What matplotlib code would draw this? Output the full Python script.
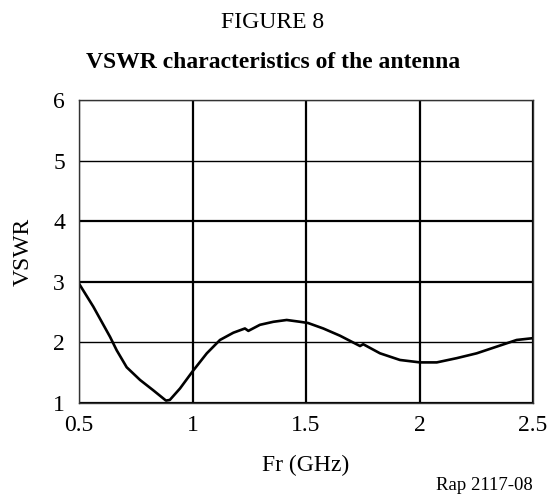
import matplotlib
matplotlib.use("Agg")
import matplotlib.pyplot as plt

freq_ghz = [0.50, 0.563, 0.637, 0.666, 0.71, 0.769, 0.827, 0.883, 0.90, 0.945, 1.0,
            1.063, 1.121, 1.18, 1.231, 1.246, 1.297, 1.356, 1.415, 1.474, 1.509,
            1.576, 1.65, 1.738, 1.752, 1.826, 1.914, 2.002, 2.076, 2.164, 2.252,
            2.34, 2.428, 2.50]
vswr = [2.97, 2.59, 2.09, 1.87, 1.59, 1.38, 1.21, 1.04, 1.05, 1.24, 1.52,
        1.82, 2.04, 2.16, 2.23, 2.19, 2.29, 2.34, 2.37, 2.34, 2.32,
        2.23, 2.11, 1.94, 1.97, 1.82, 1.71, 1.67, 1.67, 1.74, 1.82,
        1.93, 2.04, 2.07]

x_ticks = [0.5, 1, 1.5, 2, 2.5]
x_tick_labels = ["0.5", "1", "1.5", "2", "2.5"]
y_ticks = [1, 2, 3, 4, 5, 6]

plt.rcParams['font.family'] = ['Liberation Serif', 'DejaVu Serif']

fig = plt.figure(figsize=(5.47, 4.95), dpi=100)
W, H = 547, 495
ax = fig.add_axes([79 / W, 1 - 403 / H, (533 - 79) / W, (403 - 100) / H])

ax.plot(freq_ghz, vswr, color='black', lw=1.9, solid_joinstyle='round')
ax.set_xlim(0.5, 2.5)
ax.set_ylim(1, 6)
ax.set_xticks(x_ticks)
ax.set_xticklabels(x_tick_labels)
ax.set_yticks(y_ticks)
ax.tick_params(axis='x', length=0, labelsize=17, pad=8.5)
ax.tick_params(axis='y', length=0, labelsize=17, pad=10)
ax.grid(True, color='black', lw=1.6)
ygl = ax.get_ygridlines()
for i, val in enumerate(y_ticks):
    if val in (2, 5):
        ygl[i].set_linewidth(1.0)
for s in ax.spines.values():
    s.set_linewidth(1.0)
    s.set_color('#333333')

ax.set_xlabel("Fr (GHz)", fontsize=17)
ax.xaxis.set_label_coords(0.5, -0.172)
ax.set_ylabel("VSWR", fontsize=17)
ax.yaxis.set_label_coords(-0.10, 0.5)

fig.text(273 / W, 1 - 23 / H, "FIGURE 8", ha='center', va='center', fontsize=17)
fig.text(273 / W, 1 - 62 / H, "VSWR characteristics of the antenna", ha='center',
         va='center', fontsize=17, fontweight='bold')
fig.text(533 / W, 1 - 486 / H, "Rap 2117-08", ha='right', va='center', fontsize=13.5)

fig.savefig("out.png", dpi=100)
